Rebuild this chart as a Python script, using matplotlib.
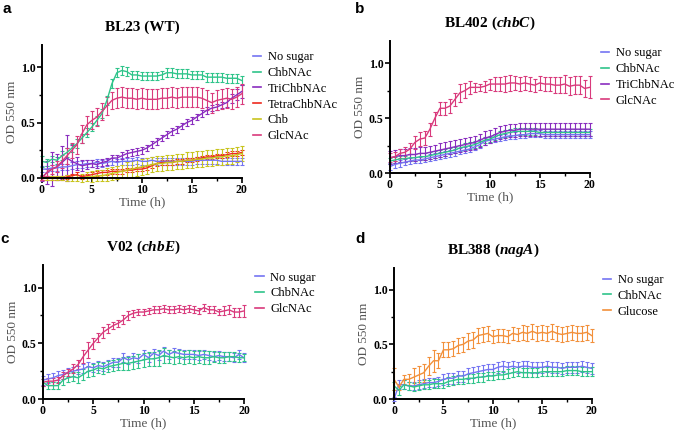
import numpy as np
import matplotlib.pyplot as plt
from matplotlib.ticker import MultipleLocator
from matplotlib.lines import Line2D

plt.rcParams["mathtext.fontset"] = "custom"
plt.rcParams["mathtext.bfit"] = "Liberation Serif:italic:bold"
plt.rcParams["mathtext.it"] = "Liberation Serif:italic"
plt.rcParams["mathtext.rm"] = "Liberation Serif"

# tiempo en horas, una lectura cada 0.5 h
time_h = np.arange(0, 20.5, 0.5)

# colores por azúcar
colors = {
    "No sugar": "#7474f2",
    "ChbNAc": "#2fc48a",
    "TriChbNAc": "#8a2dbf",
    "TetraChbNAc": "#ee2a1e",
    "Chb": "#c8c41e",
    "GlcNAc": "#d93a7c",
    "Glucose": "#f2903a",
}

# --- panel a: BL23 (WT)
a_nosugar = [0.08, 0.08, 0.09, 0.09, 0.10, 0.10, 0.11, 0.12, 0.12, 0.13, 0.13, 0.14, 0.13, 0.14, 0.15,
             0.14, 0.15, 0.15, 0.15, 0.16, 0.15, 0.15, 0.16, 0.15, 0.15, 0.15, 0.15, 0.15, 0.15, 0.15,
             0.15, 0.16, 0.16, 0.16, 0.16, 0.16, 0.15, 0.15, 0.15, 0.15, 0.15]
a_nosugar_err = [0.03] * 41
a_chbnac = [0.15, 0.14, 0.17, 0.16, 0.20, 0.23, 0.27, 0.31, 0.36, 0.41, 0.46, 0.52, 0.58, 0.70, 0.85,
            0.95, 0.97, 0.96, 0.93, 0.93, 0.92, 0.92, 0.92, 0.92, 0.93, 0.95, 0.95, 0.94, 0.94, 0.94,
            0.93, 0.93, 0.93, 0.91, 0.91, 0.91, 0.91, 0.90, 0.90, 0.90, 0.88]
a_chbnac_err = [0.05, 0.03, 0.03, 0.03, 0.04, 0.04, 0.04, 0.04, 0.04, 0.04, 0.04, 0.04, 0.04, 0.04, 0.04,
                0.04, 0.04, 0.04, 0.04, 0.04, 0.04, 0.04, 0.04, 0.04, 0.04, 0.04, 0.04, 0.04, 0.04, 0.04,
                0.04, 0.04, 0.04, 0.04, 0.04, 0.04, 0.04, 0.04, 0.04, 0.04, 0.04]
a_tri = [0.00, 0.05, 0.08, 0.10, 0.14, 0.18, 0.15, 0.13, 0.11, 0.12, 0.13, 0.12, 0.14, 0.15, 0.18,
         0.18, 0.20, 0.22, 0.23, 0.24, 0.25, 0.27, 0.30, 0.33, 0.36, 0.39, 0.42, 0.44, 0.47, 0.50,
         0.52, 0.55, 0.58, 0.61, 0.63, 0.64, 0.66, 0.68, 0.72, 0.75, 0.78]
a_tri_err = [0.03, 0.10, 0.15, 0.12, 0.15, 0.21, 0.15, 0.06, 0.05, 0.04, 0.03, 0.03, 0.03, 0.03, 0.03,
             0.03, 0.03, 0.03, 0.03, 0.03, 0.03, 0.03, 0.03, 0.03, 0.03, 0.03, 0.03, 0.03, 0.03, 0.03,
             0.03, 0.03, 0.03, 0.03, 0.03, 0.03, 0.03, 0.04, 0.04, 0.05, 0.06]
a_tetra = [0.00, 0.00, 0.00, 0.00, 0.00, 0.01, 0.02, 0.03, 0.01, 0.02, 0.03, 0.04, 0.05, 0.05, 0.06,
           0.06, 0.06, 0.07, 0.07, 0.08, 0.08, 0.09, 0.11, 0.13, 0.14, 0.14, 0.14, 0.15, 0.15, 0.16,
           0.16, 0.17, 0.18, 0.19, 0.19, 0.20, 0.20, 0.21, 0.22, 0.22, 0.23]
a_tetra_err = [0.02] * 41
a_chb = [0.00, 0.00, 0.00, 0.00, 0.00, 0.00, 0.00, 0.00, 0.00, 0.01, 0.01, 0.02, 0.02, 0.03, 0.04,
         0.05, 0.06, 0.07, 0.08, 0.09, 0.10, 0.11, 0.12, 0.13, 0.13, 0.14, 0.14, 0.15, 0.15, 0.16,
         0.16, 0.17, 0.17, 0.18, 0.18, 0.19, 0.19, 0.20, 0.20, 0.21, 0.22]
a_chb_err = [0.02, 0.02, 0.02, 0.02, 0.02, 0.03, 0.03, 0.03, 0.04, 0.04, 0.05, 0.05, 0.05, 0.06, 0.06,
             0.06, 0.06, 0.07, 0.07, 0.07, 0.07, 0.07, 0.07, 0.07, 0.07, 0.07, 0.07, 0.07, 0.07, 0.07,
             0.07, 0.07, 0.07, 0.07, 0.07, 0.07, 0.07, 0.07, 0.07, 0.07, 0.07]
a_glcnac = [0.00, 0.05, 0.08, 0.10, 0.15, 0.20, 0.25, 0.30, 0.40, 0.48, 0.52, 0.55, 0.60, 0.65, 0.70,
            0.72, 0.73, 0.72, 0.72, 0.71, 0.72, 0.71, 0.71, 0.71, 0.72, 0.72, 0.73, 0.72, 0.73, 0.73,
            0.73, 0.73, 0.72, 0.70, 0.68, 0.70, 0.71, 0.72, 0.71, 0.73, 0.76]
a_glcnac_err = [0.02, 0.03, 0.04, 0.05, 0.06, 0.07, 0.07, 0.08, 0.08, 0.08, 0.08, 0.08, 0.08, 0.08, 0.08,
                0.09, 0.09, 0.09, 0.09, 0.09, 0.09, 0.09, 0.09, 0.09, 0.09, 0.09, 0.09, 0.09, 0.09, 0.09,
                0.09, 0.09, 0.09, 0.09, 0.09, 0.09, 0.09, 0.09, 0.09, 0.09, 0.09]

# --- panel b: BL402 (chbC)
b_nosugar = [0.06, 0.08, 0.09, 0.10, 0.11, 0.12, 0.12, 0.13, 0.14, 0.15, 0.16, 0.17, 0.18, 0.19, 0.20,
             0.21, 0.22, 0.24, 0.26, 0.29, 0.30, 0.31, 0.32, 0.33, 0.34, 0.34, 0.35, 0.35, 0.36, 0.36,
             0.36, 0.35, 0.35, 0.35, 0.35, 0.35, 0.35, 0.35, 0.35, 0.35, 0.35]
b_nosugar_err = [0.03] * 41
b_chbnac = [0.11, 0.12, 0.13, 0.13, 0.14, 0.14, 0.15, 0.15, 0.16, 0.17, 0.18, 0.19, 0.20, 0.21, 0.23,
            0.24, 0.25, 0.26, 0.28, 0.30, 0.31, 0.33, 0.35, 0.36, 0.37, 0.38, 0.38, 0.38, 0.38, 0.38,
            0.37, 0.37, 0.37, 0.37, 0.37, 0.37, 0.37, 0.37, 0.37, 0.37, 0.37]
b_chbnac_err = [0.03] * 41
b_tri = [0.14, 0.15, 0.16, 0.16, 0.17, 0.17, 0.18, 0.18, 0.19, 0.20, 0.21, 0.22, 0.23, 0.24, 0.25,
         0.26, 0.27, 0.28, 0.30, 0.32, 0.33, 0.35, 0.37, 0.38, 0.39, 0.39, 0.40, 0.40, 0.40, 0.40,
         0.40, 0.40, 0.40, 0.40, 0.40, 0.40, 0.40, 0.40, 0.40, 0.40, 0.40]
b_tri_err = [0.06] * 41
b_glcnac = [0.14, 0.15, 0.18, 0.19, 0.22, 0.28, 0.31, 0.32, 0.40, 0.50, 0.59, 0.59, 0.61, 0.67, 0.73,
            0.75, 0.78, 0.78, 0.78, 0.79, 0.81, 0.81, 0.81, 0.81, 0.82, 0.82, 0.81, 0.82, 0.81, 0.80,
            0.82, 0.81, 0.81, 0.80, 0.80, 0.81, 0.79, 0.80, 0.80, 0.77, 0.78]
b_glcnac_err = [0.04, 0.04, 0.04, 0.05, 0.05, 0.06, 0.06, 0.06, 0.06, 0.06, 0.06, 0.06, 0.06, 0.06, 0.08,
                0.07, 0.06, 0.04, 0.03, 0.05, 0.05, 0.06, 0.06, 0.07, 0.07, 0.06, 0.06, 0.06, 0.06, 0.06,
                0.06, 0.06, 0.06, 0.07, 0.07, 0.08, 0.08, 0.08, 0.08, 0.08, 0.10]

# --- panel c: V02 (chbE)
c_nosugar = [0.17, 0.18, 0.19, 0.21, 0.22, 0.24, 0.25, 0.26, 0.27, 0.29, 0.28, 0.30, 0.29, 0.31, 0.33,
             0.33, 0.37, 0.35, 0.37, 0.36, 0.40, 0.37, 0.41, 0.39, 0.43, 0.40, 0.42, 0.41, 0.40, 0.40,
             0.40, 0.39, 0.40, 0.39, 0.38, 0.39, 0.38, 0.38, 0.37, 0.40, 0.37]
c_nosugar_err = [0.04] * 41
c_chbnac = [0.15, 0.12, 0.12, 0.12, 0.17, 0.19, 0.20, 0.19, 0.22, 0.25, 0.26, 0.28, 0.27, 0.29, 0.30,
            0.31, 0.32, 0.32, 0.33, 0.34, 0.35, 0.36, 0.36, 0.37, 0.39, 0.38, 0.37, 0.38, 0.37, 0.38,
            0.37, 0.38, 0.37, 0.37, 0.38, 0.37, 0.37, 0.38, 0.38, 0.37, 0.37]
c_chbnac_err = [0.03, 0.03, 0.03, 0.03, 0.04, 0.04, 0.04, 0.05, 0.05, 0.05, 0.05, 0.05, 0.05, 0.05, 0.05,
                0.05, 0.06, 0.06, 0.06, 0.06, 0.06, 0.06, 0.06, 0.07, 0.07, 0.06, 0.06, 0.06, 0.06, 0.06,
                0.06, 0.06, 0.06, 0.06, 0.05, 0.05, 0.05, 0.04, 0.04, 0.04, 0.03]
c_glcnac = [0.15, 0.16, 0.16, 0.17, 0.21, 0.24, 0.27, 0.31, 0.38, 0.44, 0.50, 0.55, 0.60, 0.63, 0.66,
            0.68, 0.71, 0.75, 0.77, 0.78, 0.78, 0.79, 0.80, 0.80, 0.81, 0.80, 0.80, 0.81, 0.80, 0.81,
            0.80, 0.79, 0.82, 0.80, 0.80, 0.78, 0.79, 0.80, 0.78, 0.78, 0.79]
c_glcnac_err = [0.03, 0.03, 0.03, 0.03, 0.03, 0.03, 0.04, 0.04, 0.06, 0.07, 0.05, 0.04, 0.05, 0.04, 0.03,
                0.03, 0.04, 0.04, 0.03, 0.03, 0.03, 0.03, 0.03, 0.03, 0.03, 0.03, 0.03, 0.03, 0.03, 0.03,
                0.03, 0.03, 0.03, 0.03, 0.03, 0.03, 0.04, 0.04, 0.04, 0.04, 0.05]

# --- panel d: BL388 (nagA)
d_nosugar = [0.00, 0.13, 0.13, 0.12, 0.12, 0.13, 0.14, 0.15, 0.15, 0.16, 0.18, 0.19, 0.19, 0.21, 0.21,
             0.23, 0.24, 0.25, 0.26, 0.27, 0.27, 0.29, 0.30, 0.29, 0.30, 0.29, 0.30, 0.30, 0.29, 0.29,
             0.29, 0.30, 0.29, 0.29, 0.28, 0.29, 0.29, 0.29, 0.30, 0.29, 0.28]
d_nosugar_err = [0.02, 0.04, 0.04, 0.04, 0.04, 0.04, 0.04, 0.04, 0.04, 0.04, 0.05, 0.05, 0.05, 0.05, 0.05,
                 0.05, 0.05, 0.05, 0.05, 0.05, 0.05, 0.05, 0.05, 0.05, 0.05, 0.05, 0.05, 0.05, 0.05, 0.05,
                 0.05, 0.05, 0.05, 0.05, 0.05, 0.05, 0.05, 0.05, 0.05, 0.05, 0.05]
d_chbnac = [0.12, 0.08, 0.13, 0.12, 0.11, 0.12, 0.13, 0.13, 0.14, 0.14, 0.14, 0.16, 0.17, 0.18, 0.18,
            0.19, 0.19, 0.20, 0.20, 0.21, 0.21, 0.22, 0.22, 0.23, 0.24, 0.25, 0.24, 0.24, 0.24, 0.24,
            0.25, 0.25, 0.25, 0.25, 0.25, 0.26, 0.26, 0.26, 0.25, 0.25, 0.25]
d_chbnac_err = [0.04] * 41
d_glucose = [0.18, 0.11, 0.18, 0.18, 0.20, 0.22, 0.24, 0.30, 0.35, 0.35, 0.45, 0.45, 0.46, 0.49, 0.50,
             0.53, 0.54, 0.58, 0.59, 0.60, 0.57, 0.58, 0.58, 0.57, 0.60, 0.59, 0.61, 0.60, 0.62, 0.60,
             0.61, 0.60, 0.62, 0.60, 0.59, 0.60, 0.61, 0.60, 0.60, 0.61, 0.58]
d_glucose_err = [0.10, 0.03, 0.04, 0.05, 0.08, 0.08, 0.08, 0.08, 0.10, 0.07, 0.07, 0.07, 0.07, 0.07, 0.07,
                 0.07, 0.07, 0.07, 0.07, 0.07, 0.06, 0.06, 0.06, 0.06, 0.06, 0.06, 0.07, 0.07, 0.07, 0.07,
                 0.07, 0.07, 0.07, 0.07, 0.07, 0.07, 0.07, 0.07, 0.07, 0.07, 0.06]

panels = [
    ("a", "BL23 (WT)", None, [0.062, 0.589, 0.295, 0.307], (0.004, 0.995),
     [("No sugar", a_nosugar, a_nosugar_err), ("ChbNAc", a_chbnac, a_chbnac_err),
      ("TriChbNAc", a_tri, a_tri_err), ("TetraChbNAc", a_tetra, a_tetra_err),
      ("Chb", a_chb, a_chb_err), ("GlcNAc", a_glcnac, a_glcnac_err)]),
    ("b", "BL402 (", "chbC", [0.576, 0.600, 0.295, 0.305], (0.525, 0.995),
     [("No sugar", b_nosugar, b_nosugar_err), ("ChbNAc", b_chbnac, b_chbnac_err),
      ("TriChbNAc", b_tri, b_tri_err), ("GlcNAc", b_glcnac, b_glcnac_err)]),
    ("c", "V02 (", "chbE", [0.0635, 0.0785, 0.297, 0.309], (0.000, 0.465),
     [("No sugar", c_nosugar, c_nosugar_err), ("ChbNAc", c_chbnac, c_chbnac_err),
      ("GlcNAc", c_glcnac, c_glcnac_err)]),
    ("d", "BL388 (", "nagA", [0.582, 0.0785, 0.292, 0.303], (0.525, 0.465),
     [("No sugar", d_nosugar, d_nosugar_err), ("ChbNAc", d_chbnac, d_chbnac_err),
      ("Glucose", d_glucose, d_glucose_err)]),
]

serif = ["Liberation Serif", "DejaVu Serif"]

fig = plt.figure(figsize=(6.77, 4.33), dpi=100)

for letter, title, gene, pos, lpos, series in panels:
    ax = fig.add_axes(pos)
    handles = []
    for name, y, err in series:
        ax.errorbar(time_h, y, yerr=err, color=colors[name], lw=1.0, elinewidth=0.8,
                    capsize=1.6, capthick=0.8, clip_on=False)
        handles.append(Line2D([], [], color=colors[name], lw=1.2, label=name))

    ax.set_xlim(0, 20)
    ax.set_ylim(0, 1.2)
    ax.xaxis.set_major_locator(MultipleLocator(5))
    ax.xaxis.set_minor_locator(MultipleLocator(2.5))
    ax.yaxis.set_minor_locator(MultipleLocator(0.25))
    ax.set_yticks([0, 0.5, 1.0])
    ax.set_yticklabels(["0.0", "0.5", "1.0"])
    for s in ["top", "right"]:
        ax.spines[s].set_visible(False)
    for s in ["left", "bottom"]:
        ax.spines[s].set_linewidth(1.4)
    ax.tick_params(which="major", length=3.5, width=1.2, direction="out", pad=1)
    ax.tick_params(which="minor", length=2.5, width=1.0, direction="out")
    for lab in ax.get_xticklabels() + ax.get_yticklabels():
        lab.set_fontfamily(serif)
        lab.set_fontweight("bold")
        lab.set_fontsize(8.5)

    ax.set_xlabel("Time (h)", family=serif, fontsize=9.5, color="#555555", labelpad=0)
    ax.set_ylabel("OD 550 nm", family=serif, fontsize=9.5, color="#555555", labelpad=2)

    # titulo con el gen en cursiva
    if gene is None:
        ttl = title
    else:
        ttl = title + r"$\mathbfit{" + gene + "}$" + ")"
    ax.set_title(ttl, family=serif, fontsize=11, fontweight="bold", pad=10)

    ax.legend(handles=handles, loc="upper left", bbox_to_anchor=(1.03, 0.99), frameon=False,
              handlelength=0.7, handletextpad=0.5, labelspacing=0.3, borderaxespad=0,
              prop={"family": serif, "size": 9})

    fig.text(lpos[0], lpos[1], letter, fontsize=11, fontweight="bold",
             family=["Liberation Sans", "DejaVu Sans"], va="top")

fig.savefig("out.png", dpi=100)
